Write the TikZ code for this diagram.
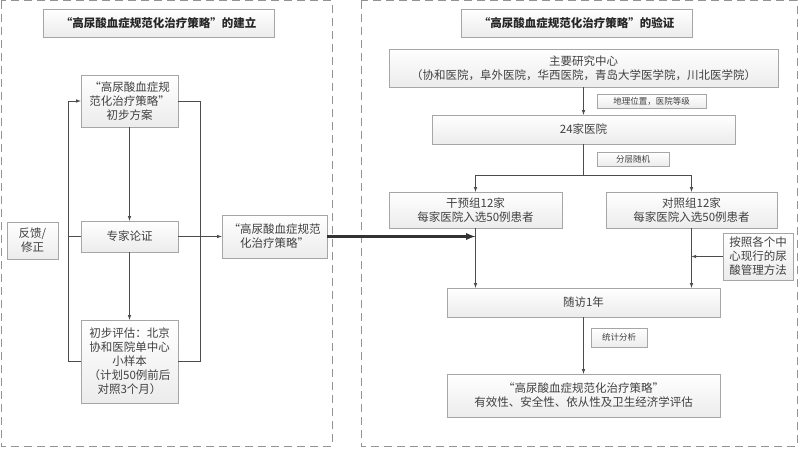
\documentclass[tikz,border=0pt]{standalone}
\usepackage{fontspec}
\setmainfont{Noto Sans CJK SC}
\usetikzlibrary{arrows, shadows}
\tikzset{
>=latex, % small filled arrow tips
panel/.style={draw=gray!85, dash pattern=on 8pt off 5pt, line width=1pt}, % the two dashed frames
box/.style={draw=gray!70, top color=white, bottom color=gray!15, align=center, inner sep=1pt,
  text=black!75, font=\fontsize{11.5}{14}\selectfont,
  drop shadow={shadow xshift=1pt, shadow yshift=-1pt, fill=gray!50, opacity=0.6}},
tag/.style={box, font=\fontsize{8.5}{10}\selectfont}, % small labels beside arrows
title/.style={box, text=black!85, font=\fontsize{11.5}{14}\selectfont\bfseries},
flow/.style={draw=black!70, line width=0.6pt},
}

\begin{document}
\begin{tikzpicture}[x=1pt, y=-1pt]
    \useasboundingbox (0,0) rectangle (800,449);
    % frames
    \draw[panel] (1,1) rectangle (332,446);
    \draw[panel] (361,1) rectangle (797,446);

    % left part: building the strategy
    \node[title, minimum width=231pt, minimum height=28pt] (tleft) at (158.5,23) {“高尿酸血症规范化治疗策略”的建立};
    \node[box, minimum width=97pt, minimum height=52pt] (plan) at (129.5,101) {“高尿酸血症规\\范化治疗策略”\\初步方案};
    \node[box, minimum width=97pt, minimum height=31pt] (expert) at (129.5,236.5) {专家论证};
    \node[box, minimum width=97pt, minimum height=83pt] (pilot) at (129.5,361.5) {初步评估：北京\\协和医院单中心\\小样本\\（计划50例前后\\对照3个月）};
    \node[box, minimum width=51pt, minimum height=37pt] (feedback) at (32.5,240.5) {反馈/\\修正};
    \node[box, minimum width=105pt, minimum height=43pt] (strategy) at (274.5,236.5) {“高尿酸血症规范\\化治疗策略”};

    \coordinate (loopl) at (68,101);
    \coordinate (loopr) at (200,101);

    \draw[flow, ->] (plan) -- (expert);
    \draw[flow, ->] (expert) -- (pilot);
    \draw[flow, ->] (pilot.west) -| (loopl) -- (plan.west);
    \draw[flow] (expert.west) -- (expert.west -| loopl);
    \draw[flow] (plan.east) -- (loopr) |- (pilot.east);
    \draw[flow, ->] (expert) -- (strategy);

    % right part: validating the strategy
    \node[title, minimum width=231pt, minimum height=28pt] (tright) at (576.5,23) {“高尿酸血症规范化治疗策略”的验证};
    \node[box, minimum width=389pt, minimum height=38pt] (centres) at (583.5,68) {主要研究中心\\（协和医院，阜外医院，华西医院，青岛大学医学院，川北医学院）};
    \node[tag, minimum width=109pt, minimum height=14pt] (geo) at (651.5,101.5) {地理位置，医院等级};
    \node[box, minimum width=303pt, minimum height=29pt] (hosp) at (583.5,129.5) {24家医院};
    \node[tag, minimum width=72pt, minimum height=14pt] (strat) at (633,159) {分层随机};
    \node[box, minimum width=173pt, minimum height=36pt] (interv) at (475.5,210) {干预组12家\\每家医院入选50例患者};
    \node[box, minimum width=171pt, minimum height=36pt] (control) at (691.5,210) {对照组12家\\每家医院入选50例患者};
    \node[box, minimum width=70pt, minimum height=47pt] (usual) at (758,256.5) {按照各个中\\心现行的尿\\酸管理方法};
    \node[box, minimum width=273pt, minimum height=29pt] (follow) at (583.5,302.5) {随访1年};
    \node[tag, minimum width=56pt, minimum height=19pt] (stats) at (619,337.5) {统计分析};
    \node[box, minimum width=273pt, minimum height=43pt] (eval) at (583.5,395.5) {“高尿酸血症规范化治疗策略”\\有效性、安全性、依从性及卫生经济学评估};

    \coordinate (split) at (583.5,175);
    \coordinate (entry) at (475.5,236.5);

    \draw[flow, ->] (centres) -- (hosp);
    \draw[flow] (hosp) -- (split);
    \draw[flow, ->] (split) -| (interv.north);
    \draw[flow, ->] (split) -| (control.north);
    \draw[flow, ->] (interv.south) -- (interv.south |- follow.north);
    \draw[flow, ->] (control.south) -- (control.south |- follow.north);
    \draw[flow, ->] (usual.west) -- (usual.west -| control.south);
    \draw[flow, ->] (follow) -- (eval);

    % thick link between the two parts
    \draw[->, draw=black!80, line width=2.2pt] (strategy.east) -- (entry);
\end{tikzpicture}
\end{document}
